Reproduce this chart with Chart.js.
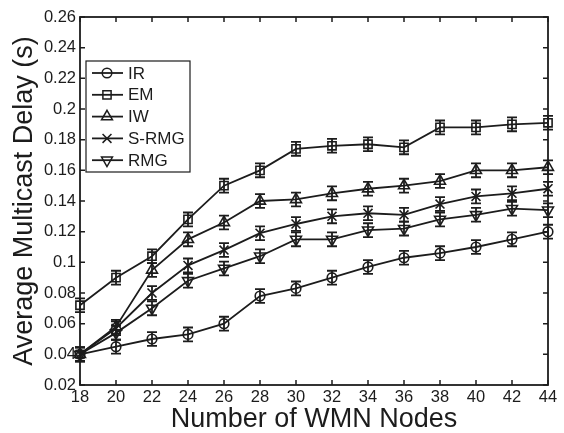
<!DOCTYPE html>
<html>
<head>
<meta charset="utf-8">
<script src="https://cdn.jsdelivr.net/npm/chart.js@4.4.0/dist/chart.umd.min.js"></script>
<style>
    html, body { margin: 0; padding: 0; background: #fff; }
    #wrap { width: 564px; height: 433px; position: relative; }
</style>
</head>
<body>
<div id="wrap"><canvas id="delayChart"></canvas></div>
<script>
// Data
const nodes = [18, 20, 22, 24, 26, 28, 30, 32, 34, 36, 38, 40, 42, 44];
const yTicks = [0.02, 0.04, 0.06, 0.08, 0.1, 0.12, 0.14, 0.16, 0.18, 0.2, 0.22, 0.24, 0.26];

const delayIR   = [0.040, 0.045, 0.050, 0.053, 0.060, 0.078, 0.083, 0.090, 0.097, 0.103, 0.106, 0.110, 0.115, 0.120];
const delayEM   = [0.072, 0.090, 0.104, 0.128, 0.150, 0.160, 0.174, 0.176, 0.177, 0.175, 0.188, 0.188, 0.190, 0.191];
const delayIW   = [0.040, 0.058, 0.095, 0.115, 0.126, 0.140, 0.141, 0.145, 0.148, 0.150, 0.153, 0.160, 0.160, 0.162];
const delaySRMG = [0.040, 0.057, 0.080, 0.098, 0.108, 0.119, 0.125, 0.130, 0.132, 0.131, 0.138, 0.143, 0.145, 0.148];
const delayRMG  = [0.040, 0.054, 0.070, 0.088, 0.096, 0.104, 0.115, 0.115, 0.121, 0.122, 0.128, 0.131, 0.135, 0.134];

// half-length of the error bars
const errIR   = [0.0045, 0.0045, 0.0045, 0.0045, 0.0045, 0.0045, 0.0045, 0.0045, 0.0045, 0.0045, 0.0045, 0.0045, 0.0045, 0.0045];
const errEM   = [0.0045, 0.0045, 0.0045, 0.0045, 0.0045, 0.0045, 0.0045, 0.0045, 0.0045, 0.0045, 0.0045, 0.0045, 0.0045, 0.0045];
const errIW   = [0.0045, 0.0045, 0.0045, 0.0045, 0.0045, 0.0045, 0.0045, 0.0045, 0.0045, 0.0045, 0.0045, 0.0045, 0.0045, 0.0045];
const errSRMG = [0.0045, 0.0045, 0.0045, 0.0045, 0.0045, 0.0045, 0.0045, 0.0045, 0.0045, 0.0045, 0.0045, 0.0045, 0.0045, 0.0045];
const errRMG  = [0.0045, 0.0045, 0.0045, 0.0045, 0.0045, 0.0045, 0.0045, 0.0045, 0.0045, 0.0045, 0.0045, 0.0045, 0.0045, 0.0045];

const seriesNames = ['IR', 'EM', 'IW', 'S-RMG', 'RMG'];

const INK = '#1c1c1c';
const FONT = '"Liberation Sans", Arial, Helvetica, sans-serif';

function makeSet(label, values, errs, style, radius, rotation) {
    return {
        label: label,
        data: values.map((v, i) => ({ x: nodes[i], y: v })),
        errors: errs,
        borderColor: INK,
        borderWidth: 1.8,
        pointStyle: style,
        pointRadius: radius,
        pointRotation: rotation || 0,
        pointBorderColor: INK,
        pointBorderWidth: 1.6,
        pointBackgroundColor: 'rgba(0,0,0,0)',
        showLine: true,
        tension: 0,
        clip: false
    };
}

// vertical error bars with caps
const errorBars = {
    id: 'errorBars',
    afterDatasetsDraw(chart) {
        const ctx = chart.ctx;
        const xs = chart.scales.x, ys = chart.scales.y;
        ctx.save();
        ctx.strokeStyle = INK;
        ctx.lineWidth = 1.8;
        chart.data.datasets.forEach(ds => {
            ds.data.forEach((p, i) => {
                const e = ds.errors[i];
                const x = xs.getPixelForValue(p.x);
                const yTop = ys.getPixelForValue(p.y + e);
                const yBot = ys.getPixelForValue(p.y - e);
                ctx.beginPath();
                ctx.moveTo(x, yTop); ctx.lineTo(x, yBot);
                ctx.moveTo(x - 5, yTop); ctx.lineTo(x + 5, yTop);
                ctx.moveTo(x - 5, yBot); ctx.lineTo(x + 5, yBot);
                ctx.stroke();
            });
        });
        ctx.restore();
    }
};

// box around the plot with inward ticks on every side
const boxAxes = {
    id: 'boxAxes',
    afterDraw(chart) {
        const ctx = chart.ctx;
        const a = chart.chartArea;
        const xs = chart.scales.x, ys = chart.scales.y;
        const len = 5;
        ctx.save();
        ctx.strokeStyle = INK;
        ctx.lineWidth = 1.5;
        ctx.beginPath();
        xs.ticks.forEach(t => {
            const x = xs.getPixelForValue(t.value);
            ctx.moveTo(x, a.bottom); ctx.lineTo(x, a.bottom - len);
            ctx.moveTo(x, a.top); ctx.lineTo(x, a.top + len);
        });
        ys.ticks.forEach(t => {
            const y = ys.getPixelForValue(t.value);
            ctx.moveTo(a.left, y); ctx.lineTo(a.left + len, y);
            ctx.moveTo(a.right, y); ctx.lineTo(a.right - len, y);
        });
        ctx.stroke();
        ctx.lineWidth = 1.8;
        ctx.strokeRect(a.left, a.top, a.right - a.left, a.bottom - a.top);
        ctx.restore();
    }
};

// legend box inside the plot, top-left
const boxLegend = {
    id: 'boxLegend',
    afterDraw(chart) {
        const ctx = chart.ctx;
        const a = chart.chartArea;
        const left = a.left + 6, top = 61, w = 104, rowH = 21.8;
        const h = rowH * chart.data.datasets.length + 2;
        ctx.save();
        ctx.fillStyle = '#fff';
        ctx.fillRect(left, top, w, h);
        ctx.strokeStyle = INK;
        ctx.lineWidth = 1.2;
        ctx.strokeRect(left, top, w, h);
        ctx.font = '17px ' + FONT;
        ctx.textBaseline = 'middle';
        chart.data.datasets.forEach((ds, i) => {
            const y = top + 12 + i * rowH;
            ctx.strokeStyle = INK;
            ctx.lineWidth = 1.8;
            ctx.beginPath();
            ctx.moveTo(left + 6, y); ctx.lineTo(left + 37, y);
            ctx.stroke();
            ctx.lineWidth = 1.5;
            ctx.fillStyle = 'rgba(0,0,0,0)';
            Chart.helpers.drawPoint(ctx, {
                pointStyle: ds.pointStyle,
                rotation: ds.pointRotation,
                radius: ds.pointRadius,
                borderWidth: 1.5
            }, left + 21, y);
            ctx.fillStyle = INK;
            ctx.fillText(seriesNames[i], left + 42, y + 1);
        });
        ctx.restore();
    }
};

const ctx = document.getElementById('delayChart');
new Chart(ctx, {
    type: 'scatter',
    data: {
        datasets: [
            makeSet(seriesNames[0], delayIR, errIR, 'circle', 4.8),
            makeSet(seriesNames[1], delayEM, errEM, 'rect', 5.8),
            makeSet(seriesNames[2], delayIW, errIW, 'triangle', 6.3),
            makeSet(seriesNames[3], delaySRMG, errSRMG, 'crossRot', 6.3),
            makeSet(seriesNames[4], delayRMG, errRMG, 'triangle', 6.3, 180)
        ]
    },
    options: {
        responsive: true,
        maintainAspectRatio: false,
        animation: false,
        layout: { padding: { top: 17, right: 16, left: 0, bottom: 0 } },
        plugins: {
            legend: { display: false },
            tooltip: { enabled: false }
        },
        scales: {
            x: {
                type: 'linear',
                min: nodes[0],
                max: nodes[nodes.length - 1],
                afterBuildTicks: s => { s.ticks = nodes.map(v => ({ value: v })); },
                afterFit: s => { s.height = 48; },
                grid: { display: false, drawTicks: false },
                border: { display: false },
                ticks: {
                    autoSkip: false,
                    maxRotation: 0,
                    padding: 3,
                    color: INK,
                    font: { family: FONT, size: 16.5 },
                    callback: v => String(v)
                },
                title: {
                    display: true,
                    text: 'Number of WMN Nodes',
                    color: INK,
                    padding: { top: 0, bottom: 0 },
                    font: { family: FONT, size: 27, lineHeight: 1 }
                }
            },
            y: {
                min: yTicks[0],
                max: yTicks[yTicks.length - 1],
                afterBuildTicks: s => { s.ticks = yTicks.map(v => ({ value: v })); },
                afterFit: s => { s.width = 80; },
                grid: { display: false, drawTicks: false },
                border: { display: false },
                ticks: {
                    padding: 4,
                    color: INK,
                    font: { family: FONT, size: 16.5 },
                    callback: v => String(v)
                },
                title: {
                    display: true,
                    text: 'Average Multicast Delay (s)',
                    color: INK,
                    padding: { top: 11, bottom: 0 },
                    font: { family: FONT, size: 27, lineHeight: 1 }
                }
            }
        }
    },
    plugins: [errorBars, boxAxes, boxLegend]
});
</script>
</body>
</html>
